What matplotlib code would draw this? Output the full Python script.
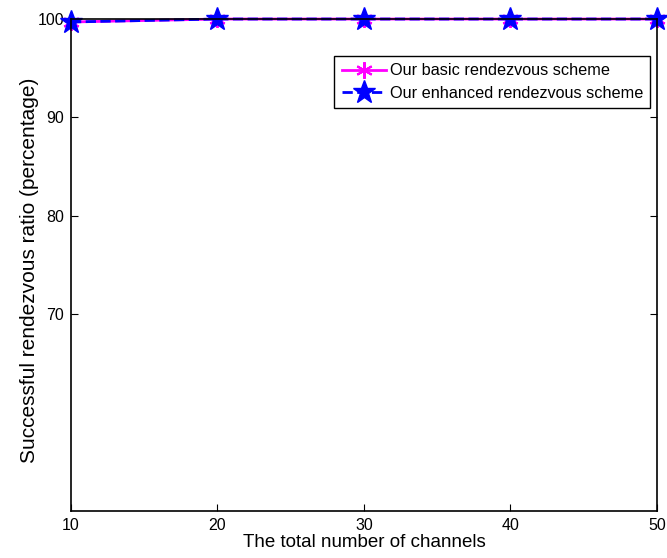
import numpy as np
import matplotlib
matplotlib.use("Agg")
from matplotlib import pyplot as plt

plt.rcParams['font.family'] = ['Liberation Sans', 'DejaVu Sans']

# donnees
channels = [10, 20, 30, 40, 50]
basic = [99.7, 100, 100, 100, 100]
enhanced = [99.7, 100, 100, 100, 100]

fig = plt.figure(figsize=(6.67, 5.58), dpi=100)
ax = fig.add_axes([0.1064, 0.0842, 0.8786, 0.8817])

ax.plot(channels, basic, color='magenta', linestyle='-', linewidth=2,
        marker=(6, 2, 0), markersize=12, markeredgewidth=1.5,
        label='Our basic rendezvous scheme', clip_on=False)
ax.plot(channels, enhanced, color='blue', linestyle='--', linewidth=2,
        marker='*', markersize=17, markerfacecolor='blue',
        label='Our enhanced rendezvous scheme', clip_on=False)

ax.set_xlim(10, 50)
ax.set_ylim(50, 100)
ax.set_xticks([10, 20, 30, 40, 50])
ax.set_yticks([70, 80, 90, 100])
ax.tick_params(direction='in', length=5, labelsize=11.5, width=0.8,
               top=True, right=True, pad=5)
for s in ax.spines.values():
    s.set_linewidth(1.2)

ax.set_xlabel('The total number of channels', fontsize=13.5, labelpad=1)
ax.set_ylabel('Successful rendezvous ratio (percentage)', fontsize=15)
ax.yaxis.set_label_coords(-0.055, 0.49)

leg = ax.legend(loc='upper right', bbox_to_anchor=(0.9886, 0.925), fontsize=11.7,
                fancybox=False, framealpha=1, edgecolor='black',
                handlelength=2.7, borderpad=0.45, labelspacing=0.45,
                handletextpad=0.25, borderaxespad=0)
leg.get_frame().set_linewidth(1.0)

plt.savefig('out.png', dpi=100)
